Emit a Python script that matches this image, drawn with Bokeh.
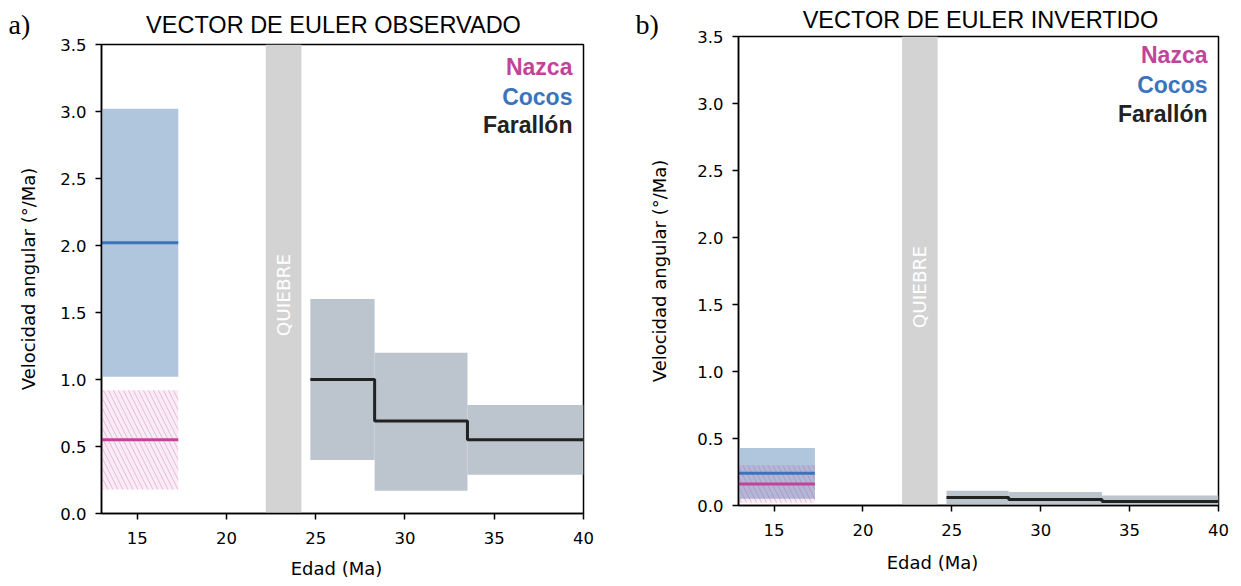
from bokeh.plotting import figure
from bokeh.layouts import row, column
from bokeh.models import Label, FixedTicker, PrintfTickFormatter, Range1d
from bokeh.core.properties import value
from bokeh.embed import file_html
from bokeh.resources import INLINE

# ---------------- data ----------------
# Observed (panel a)
obs_cocos_age = [13.0, 17.3]
obs_cocos_mean = 2.02
obs_cocos_low, obs_cocos_high = 1.02, 3.02
obs_nazca_mean = 0.55
obs_nazca_low, obs_nazca_high = 0.18, 0.92
obs_far_left = [24.7, 28.3, 33.5]
obs_far_right = [28.3, 33.5, 40.0]
obs_far_mean = [1.00, 0.69, 0.55]
obs_far_low = [0.40, 0.17, 0.29]
obs_far_high = [1.60, 1.20, 0.81]

# Inverted (panel b)
inv_cocos_age = [13.0, 17.3]
inv_cocos_mean = 0.24
inv_cocos_low, inv_cocos_high = 0.05, 0.43
inv_nazca_mean = 0.16
inv_nazca_low, inv_nazca_high = 0.02, 0.30
inv_far_left = [24.7, 28.2, 33.45]
inv_far_right = [28.2, 33.45, 40.0]
inv_far_mean = [0.06, 0.045, 0.03]
inv_far_low = [0.01, 0.005, 0.0]
inv_far_high = [0.11, 0.10, 0.075]

quiebre = [22.2, 24.2]
x_ticks = [15, 20, 25, 30, 35, 40]
y_ticks = [0.0, 0.5, 1.0, 1.5, 2.0, 2.5, 3.0, 3.5]

titles = ["VECTOR DE EULER OBSERVADO", "VECTOR DE EULER INVERTIDO"]
tags = ["a)", "b)"]
x_label = "Edad (Ma)"
y_label = "Velocidad angular (°/Ma)"

NAZCA = "#c2449a"
COCOS = "#3a74bd"
FAR = "#222222"
COCOS_BAND = "#afc6dd"
FAR_BAND = "#bcc4ce"
QB = "#d3d3d3"
SANS = "Liberation Sans"
MPL = "DejaVu Sans"


def make_panel(fw, fh, bl, br, bt, bb, leg_y, x_mls, y_mls, y_als,
               cocos_age, c_mean, c_lo, c_hi, n_mean, n_lo, n_hi,
               f_l, f_r, f_m, f_lo, f_hi):
    p = figure(frame_width=fw, frame_height=fh, output_backend="svg", toolbar_location=None,
               x_range=Range1d(13, 40), y_range=Range1d(0, 3.5),
               min_border_left=bl, min_border_right=br, min_border_top=bt,
               min_border_bottom=bb)
    p.grid.visible = False
    p.outline_line_color = "black"
    p.outline_line_width = 1.5
    p.outline_line_alpha = 1.0
    for ax in (p.xaxis[0], p.yaxis[0]):
        ax.axis_line_width = 1.5
        ax.major_tick_line_width = 1.5
        ax.major_tick_out = 6
        ax.major_tick_in = 0
        ax.minor_tick_line_color = None
        ax.major_label_text_font = MPL
        ax.major_label_text_font_size = "16.5px"
        ax.major_label_text_color = "black"
        ax.axis_label_text_font = MPL
        ax.axis_label_text_font_size = "18px"
        ax.axis_label_text_font_style = "normal"
        ax.axis_label_text_color = "black"
    p.xaxis.ticker = FixedTicker(ticks=x_ticks)
    p.yaxis.ticker = FixedTicker(ticks=y_ticks)
    p.yaxis.formatter = PrintfTickFormatter(format="%.1f")
    p.yaxis.axis_label = y_label
    p.xaxis.major_label_standoff = x_mls
    p.yaxis.major_label_standoff = y_mls
    p.yaxis.axis_label_standoff = y_als

    # quiebre band
    p.quad(left=[quiebre[0]], right=[quiebre[1]], bottom=[0], top=[3.5],
           fill_color=QB, line_color=None)
    p.add_layout(Label(x=(quiebre[0] + quiebre[1]) / 2, y=1.63, text="QUIEBRE", angle=1.5708,
                       text_color="white", text_font=MPL, text_font_size="18.5px",
                       text_align="center", text_baseline="middle"))

    # cocos band
    p.quad(left=[cocos_age[0]], right=[cocos_age[1]], bottom=[c_lo], top=[c_hi],
           fill_color=COCOS_BAND, line_color=None)
    # nazca hatched band
    p.quad(left=[cocos_age[0]], right=[cocos_age[1]], bottom=[n_lo], top=[n_hi],
           fill_color=NAZCA, fill_alpha=0.1, line_color=None,
           hatch_pattern="\\", hatch_color=NAZCA, hatch_alpha=0.3,
           hatch_scale=10, hatch_weight=1)
    # farallon bands
    p.quad(left=f_l, right=f_r, bottom=f_lo, top=f_hi, fill_color=FAR_BAND, line_color=None)

    # mean lines
    p.segment(x0=[cocos_age[0]], x1=[cocos_age[1]], y0=[n_mean], y1=[n_mean],
              line_color=NAZCA, line_width=3)
    p.segment(x0=[cocos_age[0]], x1=[cocos_age[1]], y0=[c_mean], y1=[c_mean],
              line_color=COCOS, line_width=3)
    p.step(x=f_l + [f_r[-1]], y=f_m + [f_m[-1]], mode="after", line_color=FAR, line_width=3)

    # legend texts
    for i, (txt, col) in enumerate([("Nazca", NAZCA), ("Cocos", COCOS), ("Farallón", FAR)]):
        p.add_layout(Label(x=39.38, y=leg_y[i], text=txt, text_color=col, text_font=SANS,
                           text_font_size="23px", text_font_style="bold",
                           text_align="right", text_baseline="middle"))
    return p


p1 = make_panel(482, 469, 101, 45, 44, 73, [3.33, 3.11, 2.90], 12, 9, 18,
                obs_cocos_age, obs_cocos_mean, obs_cocos_low, obs_cocos_high,
                obs_nazca_mean, obs_nazca_low, obs_nazca_high,
                obs_far_left, obs_far_right, obs_far_mean, obs_far_low, obs_far_high)
p2 = make_panel(480, 469, 110, 23, 44, 73, [3.36, 3.14, 2.92], 12, 9, 24,
                inv_cocos_age, inv_cocos_mean, inv_cocos_low, inv_cocos_high,
                inv_nazca_mean, inv_nazca_low, inv_nazca_high,
                inv_far_left, inv_far_right, inv_far_mean, inv_far_low, inv_far_high)
p2.margin = (-8, 0, 0, 0)

# transparent overlay (page pixel coordinates) for texts outside the plot frames
ov = figure(width=1241, height=586, output_backend="svg", toolbar_location=None,
            x_range=Range1d(0, 1241), y_range=Range1d(586, 0),
            x_axis_type=None, y_axis_type=None, min_border=0,
            outline_line_color=None, background_fill_alpha=0, border_fill_alpha=0)
ov.grid.visible = False
ov.margin = (-594, 0, 0, 0)
ov.text(x=[8, 635], y=[32, 32], text=tags, text_font=value("Liberation Serif"),
        text_font_size="28px", text_align="left", text_baseline="alphabetic",
        text_color="black")
ov.text(x=[333, 980], y=[32, 27], text=titles, text_font=value(SANS),
        text_font_size="23.5px", text_align="center", text_baseline="alphabetic",
        text_color="black")
ov.text(x=[336, 932], y=[576, 570], text=[x_label, x_label], text_font=value(MPL),
        text_font_size="18px", text_align="center", text_baseline="alphabetic",
        text_color="black")

layout = column(row(p1, p2), ov)
open("out.html", "w").write(file_html(layout, INLINE))
